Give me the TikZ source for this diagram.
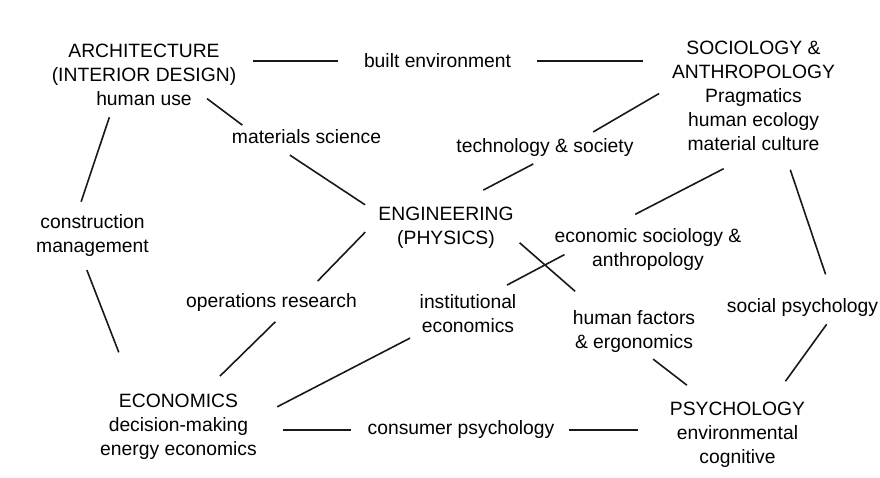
\documentclass[tikz,border=0pt]{standalone}
\usepackage{fontspec}
\setmainfont{Liberation Sans}
\begin{document}
\begin{tikzpicture}[x=1pt, y=-1pt,
  term/.style={align=center, inner sep=0pt, outer sep=0pt, font=\fontsize{19.3}{24}\selectfont},
  link/.style={line width=1.6pt, black!90}
]
  \useasboundingbox (0,0) rectangle (880,478);

  % disciplines
  \node[term] (arch) at (144,75)    {ARCHITECTURE\\(INTERIOR DESIGN)\\human use};
  \node[term] (soc)  at (753.5,96)  {SOCIOLOGY \&\\ANTHROPOLOGY\\Pragmatics\\human ecology\\material culture};
  \node[term] (eng)  at (446,228)   {ENGINEERING\\(PHYSICS)};
  \node[term] (econ) at (178.5,427) {ECONOMICS\\decision-making\\energy economics};
  \node[term] (psy)  at (737.5,435) {PSYCHOLOGY\\environmental\\cognitive};

  % bridging fields
  \node[term] (built) at (437.5,61) {built environment};
  \node[term] (mat)   at (306.5,137) {materials science};
  \node[term] (tech)  at (545,148)  {technology \& society};
  \node[term] (cm)    at (92.5,236) {construction\\management};
  \node[term] (esa)   at (648,250)  {economic sociology \&\\anthropology};
  \node[term] (ops)   at (271.5,303) {operations research};
  \node[term] (inst)  at (468,314)  {institutional\\economics};
  \node[term] (hf)    at (634,332)  {human factors\\\& ergonomics};
  \node[term] (sp)    at (802.5,308) {social psychology};
  \node[term] (cons)  at (461,430)  {consumer psychology};

  \draw[link, shorten <=17pt, shorten >=26pt] (arch.east |- built) -- (built);
  \draw[link, shorten <=26pt, shorten >=29pt] (built) -- (built -| soc.west);
  \draw[link, shorten <=-12pt, shorten >=8pt] (arch.-23) -- (mat.173);
  \draw[link, shorten <=20pt, shorten >=16pt] (mat.192) -- (eng.168);
  \draw[link, shorten <=12pt, shorten >=14pt] (arch.225) -- (cm.127);
  \draw[link, shorten <=14pt, shorten >=45pt] (cm.243) -- (econ.143);
  \draw[link, shorten <=26pt, shorten >=14pt] (econ.55) -- (ops.-33);
  \draw[link, shorten <=18pt, shorten >=19pt] (ops.15) -- (eng.172);
  \draw[link, shorten <=37pt, shorten >=15pt] (eng.78) -- (tech.-80);
  \draw[link, shorten <=14pt, shorten >=15pt] (tech.14) -- (soc.173);
  \draw[link, shorten <=39pt, shorten >=32pt] (soc.-85) -- (esa.153);
  \draw[link, shorten <=20pt, shorten >=26pt] (soc.-61) -- (sp.16);
  \draw[link, shorten <=8pt, shorten >=30pt] (eng.-8) -- (hf.150);
  \draw[link, shorten <=-11pt, shorten >=21pt] (esa.186) -- (inst.43);
  \draw[link, shorten <=11pt, shorten >=23pt] (inst.south west) -- (econ.7);
  \draw[link, shorten <=10pt, shorten >=28pt] (hf.-62) -- (psy.131);
  \draw[link, shorten <=9pt, shorten >=26pt] (sp.-17) -- (psy.45);
  \draw[link, shorten <=26pt, shorten >=17pt] (econ.east |- cons) -- (cons);
  \draw[link, shorten <=15pt, shorten >=32pt] (cons) -- (cons -| psy.west);
\end{tikzpicture}
\end{document}
